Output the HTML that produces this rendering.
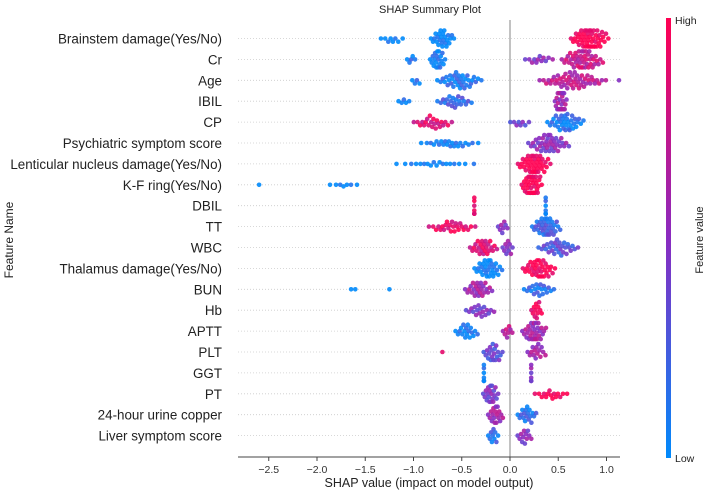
<!DOCTYPE html>
<html><head><meta charset="utf-8"><style>
html,body{margin:0;padding:0;background:#fff}
svg{display:block;font-family:"Liberation Sans",sans-serif}
</style></head><body>
<svg id="c" width="708" height="492" viewBox="0 0 708 492">
<text x="430" y="13" font-size="11" text-anchor="middle" fill="#222">SHAP Summary Plot</text>
<text transform="translate(13,240) rotate(-90)" font-size="12" text-anchor="middle" fill="#222">Feature Name</text>
<text x="429" y="487" font-size="12.5" text-anchor="middle" fill="#222">SHAP value (impact on model output)</text>
<defs><linearGradient id="cb" x1="0" y1="1" x2="0" y2="0"><stop offset="0" stop-color="#008afb"/><stop offset="0.5" stop-color="#8a2bc0"/><stop offset="1" stop-color="#ff0052"/></linearGradient></defs>
<rect x="666" y="18" width="5" height="440" fill="url(#cb)"/>
<text x="675" y="24" font-size="10.5" fill="#222">High</text>
<text x="675" y="462" font-size="10.5" fill="#222">Low</text>
<text transform="translate(703,240) rotate(-90)" font-size="11" text-anchor="middle" fill="#222">Feature value</text>
<g id="plot"></g>
</svg>
<script>
const features=["Brainstem damage(Yes/No)","Cr","Age","IBIL","CP","Psychiatric symptom score","Lenticular nucleus damage(Yes/No)","K-F ring(Yes/No)","DBIL","TT","WBC","Thalamus damage(Yes/No)","BUN","Hb","APTT","PLT","GGT","PT","24-hour urine copper","Liver symptom score"];
// clusters per feature: [lo, hi, count, featureValue(0 low..1 high)]
const clusters=[
[[-1.4,-1.05,8,0],[-0.85,-0.55,25,0],[0.6,1.05,50,1]],
[[-1.1,-0.95,5,0.1],[-0.85,-0.65,20,0.05],[0.1,0.5,12,0.5],[0.5,1.0,45,0.75]],
[[-1.05,-0.9,4,0.1],[-0.8,-0.25,35,0.1],[0.25,1.05,50,0.7],[1.13,1.13,1,0.6]],
[[-1.2,-1.0,5,0.05],[-0.8,-0.35,22,0.2],[0.45,0.6,25,0.6]],
[[-1.05,-0.55,22,0.85],[-0.05,0.25,8,0.4],[0.35,0.8,35,0.1]],
[[-1.0,-0.25,22,0.05],[0.15,0.65,40,0.5]],
[[-1.3,-0.25,18,0],[0.05,0.45,40,1]],
[[-2.6,-2.6,1,0],[-1.95,-1.5,7,0],[0.1,0.35,35,1]],
[[-0.37,-0.37,7,0.95],[0.37,0.37,7,0.1]],
[[-0.9,-0.3,25,0.9],[-0.15,0,8,0.5],[0.2,0.55,35,0.2]],
[[-0.45,-0.1,25,0.85],[-0.1,0.05,10,0.5],[0.25,0.75,30,0.3]],
[[-0.4,-0.05,30,0],[0.1,0.5,35,1]],
[[-1.7,-1.55,2,0],[-1.25,-1.25,1,0],[-0.5,-0.15,25,0.6],[0.1,0.5,20,0.15]],
[[-0.5,-0.12,18,0.45],[0.2,0.35,12,0.95]],
[[-0.6,-0.3,18,0.05],[-0.1,0.05,8,0.7],[0.1,0.4,30,0.6]],
[[-0.7,-0.7,1,1],[-0.3,-0.05,20,0.35],[0.15,0.4,15,0.6]],
[[-0.27,-0.27,7,0.05],[0.22,0.22,7,0.5]],
[[-0.3,-0.1,20,0.45],[0.2,0.65,15,1]],
[[-0.25,-0.05,18,0.6],[0.05,0.3,18,0.15]],
[[-0.25,-0.1,10,0.15],[0.05,0.25,12,0.5]]
];
const xTicks=[-2.5,-2.0,-1.5,-1.0,-0.5,0.0,0.5,1.0];
const NS="http://www.w3.org/2000/svg";
const g=document.getElementById('plot');
const x0=510,xs=96.5,axY=457,axL=238,axR=620;
const X=v=>x0+v*xs, Y=i=>38.5+i*20.9;
function col(t){const a=[0,138,251],m=[138,43,192],b=[255,0,82];let c;
 if(t<0.5){const u=t*2;c=a.map((v,k)=>Math.round(v+(m[k]-v)*u));}else{const u=(t-0.5)*2;c=m.map((v,k)=>Math.round(v+(b[k]-v)*u));}
 return `rgb(${c[0]},${c[1]},${c[2]})`;}
function mk(tag,at){const e=document.createElementNS(NS,tag);for(const k in at)e.setAttribute(k,at[k]);g.appendChild(e);return e;}
// triangular quantile: concentrates points toward cluster center
function tri(p){return p<0.5?Math.sqrt(p/2):1-Math.sqrt((1-p)/2);}
features.forEach((f,i)=>{
 const y=Y(i);
 const gl=mk('line',{x1:axL,x2:axR,y1:y,y2:y,stroke:'#ccc','stroke-width':0.8,'stroke-dasharray':'1 2'});
 
 
 const t=mk('text',{x:222,y:y+5,'font-size':13.4,'text-anchor':'end',fill:'#222'});
 t.textContent=f;
 
 
});
const zl=mk('line',{x1:X(0),x2:X(0),y1:20,y2:axY,stroke:'#999','stroke-width':1.2});


const R=2.3;
clusters.forEach((cl,i)=>{
 const pts=[];
 cl.forEach(c=>{const [lo,hi,n,fv]=c;for(let k=0;k<n;k++){const q=n>1?tri((k+0.5)/n):0;const v=n>1?lo+(hi-lo)*q:lo;
   const jf=Math.min(1,Math.max(0,fv+((k%3)-1)*0.12));pts.push({px:X(v),fv:jf});}});
 pts.sort((a,b)=>a.px-b.px);
 const placed=[];
 pts.forEach(p=>{
  let best=0;
  for(let s=0;s<20;s++){const dy=(s%2?1:-1)*Math.ceil(s/2)*1.6;
   if(placed.every(q=>Math.hypot(q.px-p.px,q.dy-dy)>=R*1.5)){best=dy;break;}best=dy;}
  if(Math.abs(best)>8)best=Math.sign(best)*8;
  p.dy=best;placed.push(p);
 });
 placed.forEach(p=>{
  const d=mk('circle',{cx:p.px.toFixed(1),cy:(Y(i)+p.dy).toFixed(1),r:R,fill:col(p.fv),'fill-opacity':0.9});
  
  
 });
});
const ax=mk('line',{x1:axL,x2:axR,y1:axY,y2:axY,stroke:'#444','stroke-width':1});


xTicks.forEach(v=>{
 const tk=mk('line',{x1:X(v),x2:X(v),y1:axY,y2:axY+4,stroke:'#444'});
 
 
 const tl=mk('text',{x:X(v),y:axY+16,'font-size':10.5,'text-anchor':'middle',fill:'#333'});
 tl.textContent=(v<0?'\u2212':'')+Math.abs(v).toFixed(1);
 
 
});
</script>
</body></html>
